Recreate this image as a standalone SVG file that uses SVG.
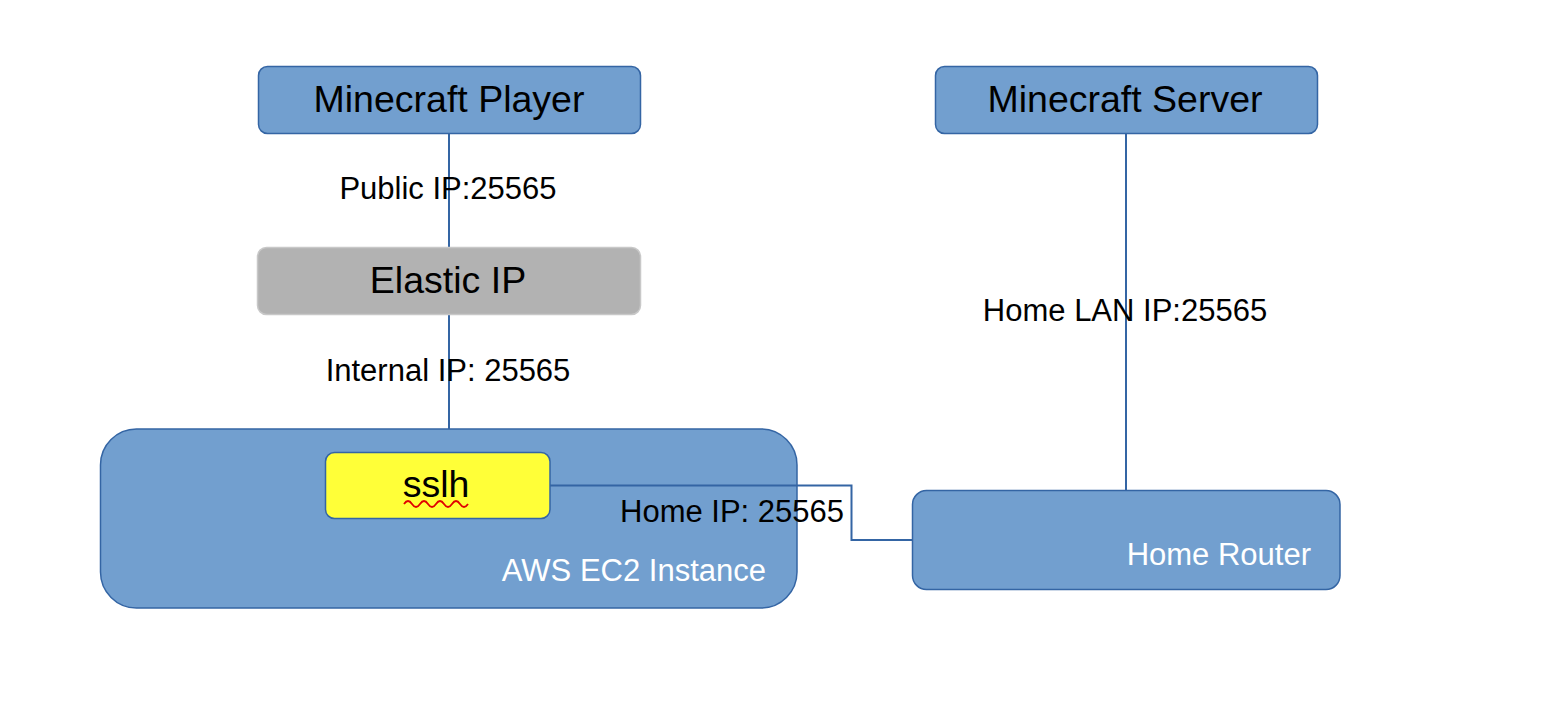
<svg xmlns="http://www.w3.org/2000/svg" width="1551" height="703" viewBox="0 0 1551 703">
<style>
.box{fill:#729fcf;stroke:#3465a4;stroke-width:1.5}
.gray{fill:#b2b2b2;stroke:#c8c8c8;stroke-width:1.5}
.yel{fill:#ffff38;stroke:#3465a4;stroke-width:1.5}
.t{font-family:"Liberation Sans",Arial,sans-serif;fill:#000}
.big{font-size:37.5px;text-anchor:middle}
.lbl{font-size:31px}
.w{fill:#ffffff;font-size:31px;text-anchor:end}
.conn{fill:none;stroke:#3465a4;stroke-width:2}
</style>
<rect width="1551" height="703" fill="#ffffff"/>
<g id="ec2">
<rect class="box" x="100.5" y="429" width="696.5" height="179" rx="36"/>
<text class="t w" x="766" y="581">AWS EC2 Instance</text>
</g>
<g id="connectors">
<line class="conn" x1="449" y1="133" x2="449" y2="247"/>
<line class="conn" x1="449" y1="314" x2="449" y2="429"/>
<line class="conn" x1="1126" y1="133" x2="1126" y2="490"/>
<polyline class="conn" points="550,485.5 851.5,485.5 851.5,540 912,540"/>
</g>
<g id="player">
<rect class="box" x="258.5" y="66.5" width="382" height="67" rx="9"/>
<text class="t big" x="449" y="112">Minecraft Player</text>
</g>
<g id="server">
<rect class="box" x="935.5" y="66.5" width="382" height="67" rx="9"/>
<text class="t big" x="1125" y="112">Minecraft Server</text>
</g>
<g id="elastic">
<rect class="gray" x="257.5" y="247.5" width="383" height="67" rx="9"/>
<text class="t big" x="448" y="293">Elastic IP</text>
</g>
<g id="sslh">
<rect class="yel" x="325.5" y="452.5" width="224.5" height="66" rx="9"/>
<text class="t big" x="436" y="497">sslh</text>
<path d="M404,504 q4,-6 8,0 t8,0 t8,0 t8,0 t8,0 t8,0 t8,0 t8,0" fill="none" stroke="#e00000" stroke-width="1.8"/>
</g>
<g id="router">
<rect class="box" x="912.5" y="490.5" width="427.5" height="99" rx="14"/>
<text class="t w" x="1311" y="565">Home Router</text>
</g>
<g id="labels">
<text class="t lbl" x="448" y="199" text-anchor="middle">Public IP:25565</text>
<text class="t lbl" x="448" y="381" text-anchor="middle">Internal IP: 25565</text>
<text class="t lbl" x="1125" y="321" text-anchor="middle">Home LAN IP:25565</text>
<text class="t lbl" x="620" y="522">Home IP: 25565</text>
</g>
</svg>
